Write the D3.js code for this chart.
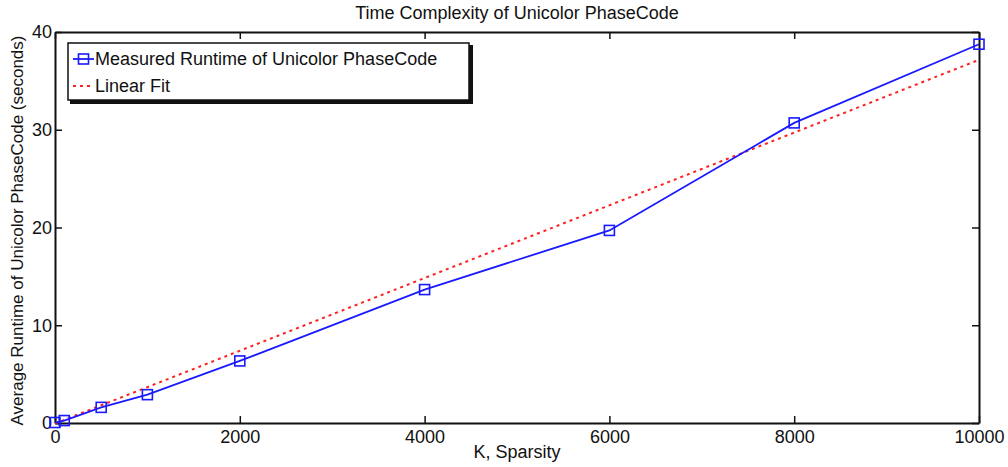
<!DOCTYPE html>
<html>
<head>
<meta charset="utf-8">
<script src="https://d3js.org/d3.v7.min.js"></script>
<style>
  body { margin: 0; background: #fff; }
  text { font-family: "Liberation Sans", Arial, sans-serif; fill: #111; }
</style>
</head>
<body>
<div id="chart-area"></div>
<script>
// measured runtime data
var sparsity = [0, 100, 500, 1000, 2000, 4000, 6000, 8000, 10000];
var runtime = [0.05, 0.25, 1.6, 2.9, 6.35, 13.65, 19.7, 30.7, 38.75];
// linear fit endpoints
var fitK = [0, 10000];
var fitRuntime = [-0.05, 37.15];
var xTicks = [0, 2000, 4000, 6000, 8000, 10000];
var yTicks = [0, 10, 20, 30, 40];

var margin = {left:55, right:29, top:32, bottom:44};
var width = 1008 - margin.left - margin.right;
var height = 467 - margin.top - margin.bottom;

var svg = d3.select("#chart-area").append("svg")
    .attr("width", 1008)
    .attr("height", 467);

var g = svg.append("g")
    .attr("transform", "translate(" + margin.left + "," + margin.top + ")");

var x = d3.scaleLinear().domain([0, 10000]).range([0, width]);
var y = d3.scaleLinear().domain([0, 40]).range([height, 0]);

// title
svg.append("text")
    .attr("x", margin.left + width / 2)
    .attr("y", 19)
    .attr("font-size", "18px")
    .attr("text-anchor", "middle")
    .text("Time Complexity of Unicolor PhaseCode");

// X Label
g.append("text")
    .attr("x", width / 2)
    .attr("y", height + 35)
    .attr("font-size", "18px")
    .attr("text-anchor", "middle")
    .text("K, Sparsity");

// Y Label
g.append("text")
    .attr("x", -(height / 2) - 3)
    .attr("y", -32)
    .attr("font-size", "17px")
    .attr("text-anchor", "middle")
    .attr("transform", "rotate(-90)")
    .text("Average Runtime of Unicolor PhaseCode (seconds)");

// axes, ticks pointing inward, mirrored on top/right
var tickLen = 7;
g.append("g")
    .attr("transform", "translate(0," + height + ")")
    .call(d3.axisBottom(x).tickValues(xTicks).tickSizeInner(-tickLen).tickSizeOuter(0)
        .tickPadding(7).tickFormat(d3.format("d")));
g.append("g")
    .call(d3.axisTop(x).tickValues(xTicks).tickSizeInner(-tickLen).tickSizeOuter(0).tickFormat(""));
g.append("g")
    .call(d3.axisLeft(y).tickValues(yTicks).tickSizeInner(-tickLen).tickSizeOuter(0)
        .tickPadding(3).tickFormat(d3.format("d")));
g.append("g")
    .attr("transform", "translate(" + width + ",0)")
    .call(d3.axisRight(y).tickValues(yTicks).tickSizeInner(-tickLen).tickSizeOuter(0).tickFormat(""));

g.selectAll(".domain").attr("stroke", "#111").attr("stroke-width", 2);
g.selectAll(".tick line").attr("stroke", "#111").attr("stroke-width", 1.5);
g.selectAll(".tick text").attr("font-size", "18px").attr("font-family", "Liberation Sans, Arial, sans-serif").attr("fill", "#111");

var line = d3.line()
    .x(function(d){ return x(d[0]); })
    .y(function(d){ return y(d[1]); });

// linear fit
g.append("path")
    .datum(d3.zip(fitK, fitRuntime))
    .attr("d", line)
    .attr("fill", "none")
    .attr("stroke", "#ff2020")
    .attr("stroke-width", 2)
    .attr("stroke-dasharray", "3,4");

// measured
g.append("path")
    .datum(d3.zip(sparsity, runtime))
    .attr("d", line)
    .attr("fill", "none")
    .attr("stroke", "#1a1aff")
    .attr("stroke-width", 1.8);

g.selectAll("rect.marker")
    .data(d3.zip(sparsity, runtime))
    .enter()
    .append("rect")
    .attr("class", "marker")
    .attr("x", function(d){ return x(d[0]) - 5; })
    .attr("y", function(d){ return y(d[1]) - 5; })
    .attr("width", 10)
    .attr("height", 10)
    .attr("fill", "none")
    .attr("stroke", "#1a1aff")
    .attr("stroke-width", 1.6);

// legend
var lg = svg.append("g").attr("transform", "translate(68,43)");
lg.append("rect")
    .attr("x", 2).attr("y", 2)
    .attr("width", 403).attr("height", 59)
    .attr("fill", "#111");
lg.append("rect")
    .attr("width", 401).attr("height", 57)
    .attr("fill", "#fff")
    .attr("stroke", "#111")
    .attr("stroke-width", 1.5);

lg.append("line")
    .attr("x1", 5).attr("x2", 26).attr("y1", 16).attr("y2", 16)
    .attr("stroke", "#1a1aff").attr("stroke-width", 1.8);
lg.append("rect")
    .attr("x", 10.5).attr("y", 11).attr("width", 10).attr("height", 10)
    .attr("fill", "none").attr("stroke", "#1a1aff").attr("stroke-width", 1.6);
lg.append("text")
    .attr("x", 27).attr("y", 22)
    .attr("font-size", "18px")
    .text("Measured Runtime of Unicolor PhaseCode");

lg.append("line")
    .attr("x1", 5).attr("x2", 26).attr("y1", 43).attr("y2", 43)
    .attr("stroke", "#ff2020").attr("stroke-width", 2)
    .attr("stroke-dasharray", "3,4");
lg.append("text")
    .attr("x", 27).attr("y", 49)
    .attr("font-size", "18px")
    .text("Linear Fit");
</script>
</body>
</html>
